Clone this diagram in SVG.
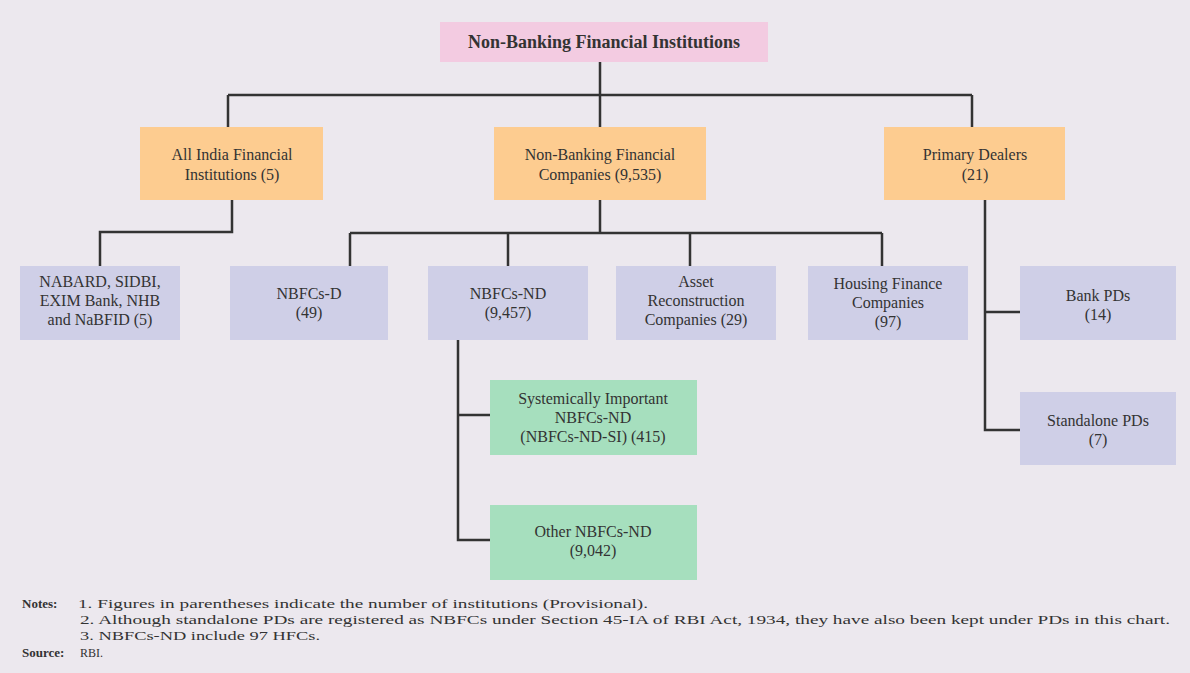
<svg xmlns="http://www.w3.org/2000/svg" width="1190" height="673" viewBox="0 0 1190 673">
<style>
text{font-family:"Liberation Serif","Times New Roman",serif;fill:#333;}
.lbl{font-size:16px;text-anchor:middle;}
.ttl{font-size:18px;font-weight:bold;text-anchor:middle;}
.note{font-size:12px;}
.b{font-weight:bold;font-size:13px;}
.pink{fill:#F3CBE1;}
.orange{fill:#FDCC90;}
.lav{fill:#CFCFE7;}
.green{fill:#A6DFBE;}
.con{fill:none;stroke:#333;stroke-width:2.5;}
</style>
<rect width="1190" height="673" fill="#ECE8EE"/>
<g id="connectors">
<path class="con" d="M600 62V95M228 95H972M228 95V127M600 95V127M972 95V127"/>
<path class="con" d="M232 200V232H100V266"/>
<path class="con" d="M600 200V233M350 233H882M350 233V266M508 233V266M690 233V266M882 233V266"/>
<path class="con" d="M985 200V430H1020M985 312H1020"/>
<path class="con" d="M458 340V540H490M458 415H490"/>
</g>
<g id="nbfi"><rect class="pink" x="440" y="22" width="328" height="40"/><text class="ttl" x="604" y="48">Non-Banking Financial Institutions</text></g>
<g id="aifi"><rect class="orange" x="140" y="127" width="183" height="73"/><text class="lbl" x="232" y="160">All India Financial</text><text class="lbl" x="232" y="180">Institutions (5)</text></g>
<g id="nbfc"><rect class="orange" x="494" y="127" width="212" height="73"/><text class="lbl" x="600" y="160">Non-Banking Financial</text><text class="lbl" x="600" y="180">Companies (9,535)</text></g>
<g id="pd"><rect class="orange" x="884" y="127" width="181" height="73"/><text class="lbl" x="975" y="160">Primary Dealers</text><text class="lbl" x="975" y="180">(21)</text></g>
<g id="aifi-list"><rect class="lav" x="20" y="266" width="160" height="74"/><text class="lbl" x="100" y="287">NABARD, SIDBI,</text><text class="lbl" x="100" y="306">EXIM Bank, NHB</text><text class="lbl" x="100" y="325">and NaBFID (5)</text></g>
<g id="nbfc-d"><rect class="lav" x="230" y="266" width="158" height="74"/><text class="lbl" x="309" y="299">NBFCs-D</text><text class="lbl" x="309" y="318">(49)</text></g>
<g id="nbfc-nd"><rect class="lav" x="428" y="266" width="160" height="74"/><text class="lbl" x="508" y="299">NBFCs-ND</text><text class="lbl" x="508" y="318">(9,457)</text></g>
<g id="arc"><rect class="lav" x="616" y="266" width="160" height="74"/><text class="lbl" x="696" y="287">Asset</text><text class="lbl" x="696" y="306">Reconstruction</text><text class="lbl" x="696" y="325">Companies (29)</text></g>
<g id="hfc"><rect class="lav" x="808" y="266" width="160" height="74"/><text class="lbl" x="888" y="289">Housing Finance</text><text class="lbl" x="888" y="308">Companies</text><text class="lbl" x="888" y="327">(97)</text></g>
<g id="bank-pd"><rect class="lav" x="1020" y="266" width="156" height="74"/><text class="lbl" x="1098" y="301">Bank PDs</text><text class="lbl" x="1098" y="320">(14)</text></g>
<g id="standalone-pd"><rect class="lav" x="1020" y="392" width="156" height="73"/><text class="lbl" x="1098" y="426">Standalone PDs</text><text class="lbl" x="1098" y="445">(7)</text></g>
<g id="nd-si"><rect class="green" x="490" y="380" width="207" height="75"/><text class="lbl" x="593" y="404">Systemically Important</text><text class="lbl" x="593" y="423">NBFCs-ND</text><text class="lbl" x="593" y="442">(NBFCs-ND-SI) (415)</text></g>
<g id="other-nd"><rect class="green" x="490" y="505" width="207" height="75"/><text class="lbl" x="593" y="537">Other NBFCs-ND</text><text class="lbl" x="593" y="556">(9,042)</text></g>
<g id="notes">
<text class="note b" x="22" y="608">Notes:</text>
<text class="note" x="78" y="608" textLength="570" lengthAdjust="spacingAndGlyphs">1. Figures in parentheses indicate the number of institutions (Provisional).</text>
<text class="note" x="80" y="624" textLength="1090" lengthAdjust="spacingAndGlyphs">2. Although standalone PDs are registered as NBFCs under Section 45-IA of RBI Act, 1934, they have also been kept under PDs in this chart.</text>
<text class="note" x="80" y="640" textLength="240" lengthAdjust="spacingAndGlyphs">3. NBFCs-ND include 97 HFCs.</text>
<text class="note b" x="22" y="657">Source:</text>
<text class="note" x="80" y="657">RBI.</text>
</g>
</svg>
